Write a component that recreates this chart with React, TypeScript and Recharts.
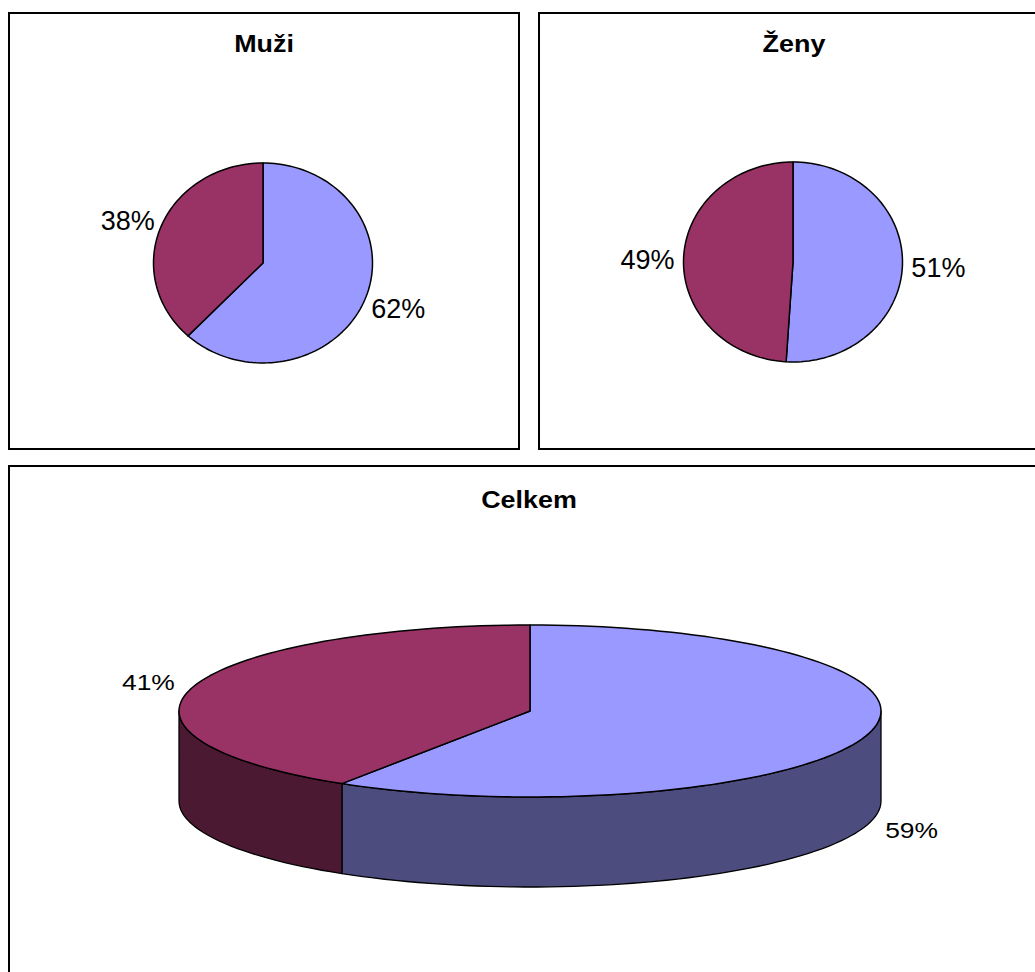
import React from "react";
import { PieChart, Pie, Cell } from "recharts";

// two answer groups, shown for men, women and in total
const CATEGORIES = ["skupina 1", "skupina 2"];
const MUZI = [62, 38];
const ZENY = [51, 49];
const CELKEM = [59, 41];

const TOP_COLORS = ["#9999ff", "#993366"];
const SIDE_COLORS: Record<string, string> = {
  "#9999ff": "#4c4c7f",
  "#993366": "#4c1933",
};

const FONT = "'Liberation Sans', Arial, sans-serif";
const RAD = Math.PI / 180;
const NO_MARGIN = { top: 0, right: 0, bottom: 0, left: 0 };

const toRows = (values: number[]) =>
  values.map((v, i) => ({ name: CATEGORIES[i], value: v }));

function arcPoints(cx: number, cy: number, rx: number, ry: number, a0: number, a1: number) {
  const n = Math.max(2, Math.ceil(Math.abs(a1 - a0) / 2));
  const pts: string[] = [];
  for (let i = 0; i <= n; i++) {
    const a = a0 + ((a1 - a0) * i) / n;
    pts.push(`${(cx + rx * Math.cos(-a * RAD)).toFixed(2)},${(cy + ry * Math.sin(-a * RAD)).toFixed(2)}`);
  }
  return pts;
}

// slice drawn on an ellipse; with depth > 0 the front wall is added below it
const makeSlice = (squash: number, depth: number) => (props: any) => {
  const { cx, cy, outerRadius, startAngle, endAngle, fill } = props;
  const rx = outerRadius;
  const ry = outerRadius * squash;
  const parts: React.ReactNode[] = [];
  if (depth > 0) {
    const lo0 = Math.min(startAngle, endAngle);
    const hi0 = Math.max(startAngle, endAngle);
    for (const k of [-360, 0, 360]) {
      const lo = Math.max(lo0, -180 + k);
      const hi = Math.min(hi0, k);
      if (hi - lo > 0.01) {
        const pts = [...arcPoints(cx, cy, rx, ry, lo, hi), ...arcPoints(cx, cy + depth, rx, ry, hi, lo)];
        parts.push(
          <path
            key={`wall${k}`}
            d={`M${pts.join("L")}Z`}
            fill={SIDE_COLORS[fill] ?? fill}
            stroke="#000"
            strokeWidth={1.3}
            strokeLinejoin="round"
          />
        );
      }
    }
  }
  const rim = arcPoints(cx, cy, rx, ry, startAngle, endAngle);
  parts.push(
    <path
      key="top"
      d={`M${cx},${cy}L${rim.join("L")}Z`}
      fill={fill}
      stroke="#000"
      strokeWidth={1.5}
      strokeLinejoin="round"
    />
  );
  return <g>{parts}</g>;
};

const makeLabel =
  (squash: number, depth: number, fs: number, sx: number, gx: number, gy: number, dy: number) =>
  (p: any) => {
    const { cx, cy, outerRadius, midAngle, value } = p;
    const c = Math.cos(-midAngle * RAD);
    const s = Math.sin(-midAngle * RAD);
    const px = cx + outerRadius * c;
    let py = cy + outerRadius * squash * s;
    if (depth > 0 && s > 0) py += depth;
    const w = fs * 2 * sx;
    const h = fs * 0.72;
    const x = px + c * (w / 2 + gx);
    const y = py + s * (h / 2 + gy) + dy;
    return (
      <text
        transform={`translate(${x.toFixed(1)},${y.toFixed(1)}) scale(${sx},1)`}
        textAnchor="middle"
        dominantBaseline="central"
        fontSize={fs}
        fontFamily={FONT}
        fill="#000"
      >
        {value}%
      </text>
    );
  };

function Panel({ left, top, width, height, title, titleTop, children }: any) {
  return (
    <div
      style={{
        position: "absolute",
        left,
        top,
        width,
        height,
        border: "2px solid #000",
        boxSizing: "border-box",
        background: "#fff",
      }}
    >
      {children}
      <div
        style={{
          position: "absolute",
          left: 0,
          right: 0,
          top: titleTop,
          textAlign: "center",
          fontFamily: FONT,
          fontWeight: "bold",
          fontSize: 24,
          lineHeight: "24px",
          transform: "scaleX(1.12)",
        }}
      >
        {title}
      </div>
    </div>
  );
}

function FlatPie({ values, cx, cy }: { values: number[]; cx: number; cy: number }) {
  const squash = 0.913;
  return (
    <PieChart width={508} height={434} margin={NO_MARGIN}>
      <Pie
        data={toRows(values)}
        dataKey="value"
        nameKey="name"
        cx={cx}
        cy={cy}
        outerRadius={109.5}
        startAngle={90}
        endAngle={-270}
        isAnimationActive={false}
        labelLine={false}
        shape={makeSlice(squash, 0)}
        label={makeLabel(squash, 0, 27, 1, 9, 9, 2)}
      >
        {values.map((_, i) => (
          <Cell key={i} fill={TOP_COLORS[i]} />
        ))}
      </Pie>
    </PieChart>
  );
}

export default function App() {
  const squash3d = 0.245;
  const depth = 90;
  return (
    <div
      style={{
        position: "absolute",
        left: 0,
        top: 0,
        width: 1035,
        height: 972,
        overflow: "hidden",
        background: "#fff",
        fontFamily: FONT,
      }}
    >
      <Panel left={8} top={12} width={512} height={438} title="Muži" titleTop={18}>
        <FlatPie values={MUZI} cx={253} cy={249} />
      </Panel>
      <Panel left={538} top={12} width={512} height={438} title="Ženy" titleTop={18}>
        <FlatPie values={ZENY} cx={253} cy={248} />
      </Panel>
      <Panel left={8} top={465} width={1042} height={520} title="Celkem" titleTop={21}>
        <PieChart width={1038} height={516} margin={NO_MARGIN}>
          <Pie
            data={toRows(CELKEM)}
            dataKey="value"
            nameKey="name"
            cx={520}
            cy={244}
            outerRadius={351}
            startAngle={90}
            endAngle={-270}
            isAnimationActive={false}
            labelLine={false}
            shape={makeSlice(squash3d, depth)}
            label={makeLabel(squash3d, depth, 22, 1.2, 20, 10, 0)}
          >
            {CELKEM.map((_, i) => (
              <Cell key={i} fill={TOP_COLORS[i]} />
            ))}
          </Pie>
        </PieChart>
      </Panel>
    </div>
  );
}
